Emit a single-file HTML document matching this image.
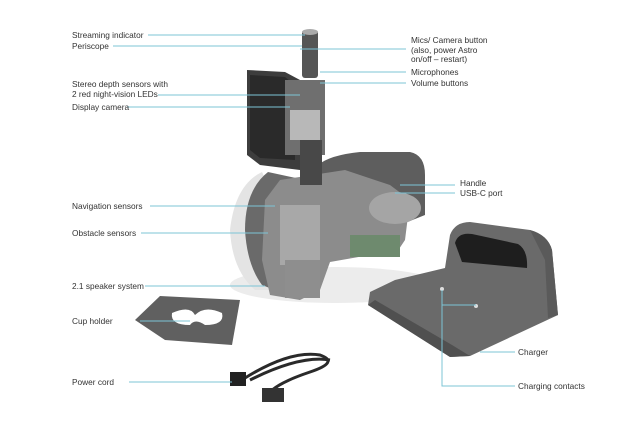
<!DOCTYPE html>
<html><head><style>
html,body{margin:0;padding:0;background:#fff;}
svg{display:block}
text{font-family:"Liberation Sans",sans-serif;font-size:8.3px;fill:#333}
</style></head><body>
<svg width="640" height="423" viewBox="0 0 640 423">
<rect width="640" height="423" fill="#fff"/>
<!-- shadow -->
<ellipse cx="335" cy="285" rx="105" ry="18" fill="#ececec"/>
<!-- handle back -->
<path d="M318 165 Q330 155 360 152 L410 152 Q425 155 425 175 L425 215 L400 225 L390 190 L330 195 Z" fill="#5e5e5e"/>
<!-- shell -->
<path d="M262 172 Q235 185 230 230 Q232 270 255 290 L272 290 L262 260 L258 220 L268 185 Z" fill="#e4e4e4"/>
<path d="M268 172 Q245 190 245 230 Q247 265 262 285 L300 300 L305 180 Z" fill="#6a6a6a"/>
<!-- interior -->
<path d="M280 180 L345 170 L390 185 L410 200 L405 240 L395 255 L370 255 L330 262 L320 290 L300 300 L270 295 L262 260 L265 200 Z" fill="#8c8c8c"/>
<ellipse cx="395" cy="208" rx="26" ry="16" fill="#a5a5a5"/>
<rect x="350" y="235" width="50" height="22" fill="#6e8a6e"/>
<rect x="280" y="205" width="40" height="60" fill="#a8a8a8"/>
<rect x="285" y="260" width="35" height="38" fill="#8e8e8e"/>
<!-- display -->
<path d="M247 70 L285 72 L300 80 L300 170 L260 165 L247 155 Z" fill="#3d3d3d"/>
<path d="M250 75 L285 77 L295 85 L295 160 L260 158 L250 150 Z" fill="#2a2a2a"/>
<rect x="285" y="80" width="40" height="75" fill="#6f6f6f"/>
<rect x="290" y="110" width="30" height="30" fill="#b8b8b8"/>
<rect x="300" y="140" width="22" height="45" fill="#484848"/>
<!-- periscope -->
<rect x="302" y="30" width="16" height="48" rx="3" fill="#555"/>
<ellipse cx="310" cy="32" rx="8" ry="3" fill="#aaa"/>
<!-- cup holder -->
<path d="M135 320 L160 296 L240 300 L232 345 L165 340 Z" fill="#606060"/>
<path d="M172 313 Q190 305 195 315 Q205 305 222 313 Q225 325 205 325 Q195 318 190 325 Q170 325 172 313 Z" fill="#fff"/>
<!-- power cord -->
<path d="M245 378 Q290 350 320 355 Q340 362 310 372 Q280 382 270 392" stroke="#2a2a2a" stroke-width="3" fill="none"/>
<path d="M250 380 Q300 355 330 360" stroke="#2a2a2a" stroke-width="3" fill="none"/>
<rect x="230" y="372" width="16" height="14" fill="#222"/>
<rect x="262" y="388" width="22" height="14" fill="#333"/>
<!-- charger -->
<path d="M370 292 L395 280 L445 268 L450 235 Q455 222 470 222 L530 230 Q548 235 552 250 L558 315 L470 356 L450 357 L368 305 Z" fill="#6a6a6a"/>
<path d="M455 243 Q458 232 472 234 L518 244 Q528 250 527 268 L462 262 Z" fill="#1e1e1e"/>
<path d="M368 305 L450 357 L470 356 L452 345 L375 300 Z" fill="#505050"/>
<path d="M530 230 Q548 235 552 250 L558 315 L548 318 L545 260 Z" fill="#5a5a5a"/>
<circle cx="442" cy="289" r="2" fill="#ddd"/><circle cx="476" cy="306" r="2" fill="#ddd"/>
<!-- leader lines -->
<g stroke="#7cc4d6" stroke-width="1" fill="none">
<path d="M148 35 H305"/><path d="M113 46 H302"/>
<path d="M158 95 H300"/><path d="M127 107 H290"/>
<path d="M300 49 H406"/><path d="M320 72 H406"/><path d="M320 83 H406"/>
<path d="M400 185 H455"/><path d="M395 193 H455"/>
<path d="M150 206 H275"/><path d="M141 233 H268"/><path d="M145 286 H265"/>
<path d="M140 321 H190"/><path d="M129 382 H232"/>
<path d="M480 352 H515"/><path d="M442 290 V386 H515"/><path d="M442 305 H476"/>
</g>
<!-- labels -->
<text x="72" y="38">Streaming indicator</text>
<text x="72" y="49">Periscope</text>
<text x="72" y="87">Stereo depth sensors with</text>
<text x="72" y="97">2 red night-vision LEDs</text>
<text x="72" y="110">Display camera</text>
<text x="72" y="209">Navigation sensors</text>
<text x="72" y="236">Obstacle sensors</text>
<text x="72" y="289">2.1 speaker system</text>
<text x="72" y="324">Cup holder</text>
<text x="72" y="385">Power cord</text>
<text x="411" y="43">Mics/ Camera button</text>
<text x="411" y="53">(also, power Astro</text>
<text x="411" y="62">on/off – restart)</text>
<text x="411" y="75">Microphones</text>
<text x="411" y="86">Volume buttons</text>
<text x="460" y="186">Handle</text>
<text x="460" y="196">USB-C port</text>
<text x="518" y="355">Charger</text>
<text x="518" y="389">Charging contacts</text>
</svg>
</body></html>
